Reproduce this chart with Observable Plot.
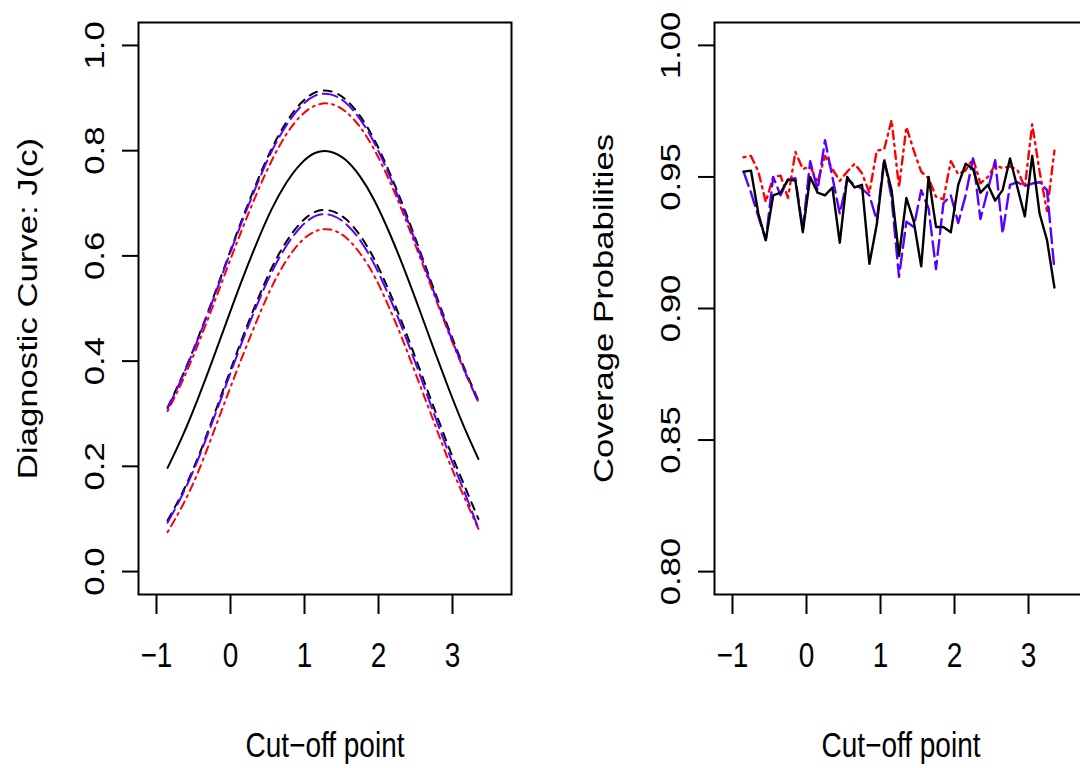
<!DOCTYPE html>
<html><head><meta charset="utf-8">
<script src="https://cdn.jsdelivr.net/npm/d3@7"></script>
<script src="https://cdn.jsdelivr.net/npm/@observablehq/plot@0.6"></script>
<style>
html,body{margin:0;padding:0;background:#fff;}
#wrap{width:1080px;height:768px;overflow:hidden;display:flex;flex-direction:row;background:#fff;}
#wrap > *{flex:none;}
</style></head><body><div id="wrap"></div>
<script>
// ---- Left panel: diagnostic curve J(c) and its confidence bands ----
const leftCutoffs = [-0.85,-0.65,-0.45,-0.25,-0.05,0.15,0.35,0.55,0.75,0.95,1.15,1.35,1.55,1.75,1.95,2.15,2.35,2.55,2.75,2.95,3.15,3.35];
const jTrue      = [0.197,0.257,0.325,0.399,0.476,0.552,0.623,0.687,0.738,0.775,0.796,0.798,0.783,0.751,0.704,0.643,0.574,0.499,0.422,0.347,0.277,0.214];
const blackUpper = [0.312,0.372,0.440,0.514,0.591,0.667,0.738,0.802,0.853,0.890,0.911,0.913,0.898,0.866,0.819,0.758,0.689,0.613,0.536,0.461,0.390,0.325];
const blackLower = [0.097,0.150,0.213,0.287,0.364,0.440,0.511,0.575,0.626,0.663,0.684,0.686,0.671,0.639,0.592,0.531,0.462,0.387,0.311,0.236,0.167,0.100];
const blueUpper  = [0.310,0.370,0.438,0.511,0.588,0.663,0.733,0.797,0.847,0.884,0.905,0.907,0.892,0.860,0.813,0.752,0.683,0.608,0.531,0.456,0.386,0.322];
const blueLower  = [0.093,0.146,0.209,0.282,0.358,0.434,0.504,0.567,0.618,0.655,0.676,0.678,0.662,0.630,0.582,0.521,0.452,0.377,0.300,0.225,0.155,0.082];
const redUpper   = [0.305,0.362,0.428,0.500,0.575,0.648,0.717,0.779,0.830,0.866,0.886,0.889,0.875,0.845,0.800,0.742,0.675,0.601,0.527,0.453,0.385,0.322];
const redLower   = [0.075,0.125,0.185,0.257,0.332,0.405,0.475,0.539,0.590,0.627,0.647,0.650,0.636,0.605,0.560,0.500,0.432,0.358,0.284,0.210,0.144,0.081];

// ---- Right panel: coverage probabilities ----
const rightCutoffs = [-0.85,-0.75,-0.65,-0.55,-0.45,-0.35,-0.25,-0.15,-0.05,0.05,0.15,0.25,0.35,0.45,0.55,0.65,0.75,0.85,0.95,1.05,1.15,1.25,1.35,1.45,1.55,1.65,1.75,1.85,1.95,2.05,2.15,2.25,2.35,2.45,2.55,2.65,2.75,2.85,2.95,3.05,3.15,3.25,3.35];
const coverBlack = [0.952,0.9524,0.936,0.926,0.943,0.944,0.949,0.9486,0.929,0.950,0.944,0.943,0.946,0.925,0.950,0.946,0.947,0.917,0.932,0.956,0.945,0.920,0.942,0.933,0.916,0.950,0.931,0.931,0.929,0.947,0.955,0.953,0.944,0.947,0.941,0.945,0.957,0.946,0.935,0.958,0.936,0.926,0.908];
const coverBlue  = [0.952,0.944,0.935,0.926,0.950,0.943,0.949,0.9495,0.930,0.956,0.945,0.964,0.950,0.936,0.949,0.947,0.9455,0.943,0.9335,0.957,0.942,0.912,0.933,0.931,0.945,0.938,0.915,0.940,0.943,0.9325,0.943,0.957,0.934,0.945,0.9564,0.9285,0.947,0.948,0.9465,0.9475,0.948,0.945,0.9148];
const coverRed   = [0.9575,0.958,0.952,0.9405,0.950,0.9505,0.942,0.9595,0.953,0.954,0.948,0.958,0.953,0.9485,0.952,0.955,0.9514,0.944,0.960,0.9605,0.9716,0.946,0.969,0.960,0.952,0.9495,0.9425,0.9415,0.956,0.951,0.9525,0.957,0.9476,0.950,0.9545,0.9533,0.954,0.9527,0.946,0.970,0.952,0.937,0.960];

// ---- Axes / labels ----
const xTicks = [-1,0,1,2,3];
const xTickLabels = ["\u22121","0","1","2","3"];
const leftYTicks = [0,0.2,0.4,0.6,0.8,1.0];
const leftYTickLabels = ["0.0","0.2","0.4","0.6","0.8","1.0"];
const rightYTicks = [0.80,0.85,0.90,0.95,1.00];
const rightYTickLabels = ["0.80","0.85","0.90","0.95","1.00"];
const xTitle = "Cut\u2212off point";
const leftYTitle = "Diagnostic Curve: J(c)";
const rightYTitle = "Coverage Probabilities";

const FONT = "'Liberation Sans', Arial, Helvetica, sans-serif";
const STRETCH = 1.24; // glyphs in the reference are taller than they are wide
const styles = {
  black: {stroke: "black", strokeDasharray: null},
  blackDash: {stroke: "black", strokeDasharray: "8,7"},
  blueDash: {stroke: "#5a00ff", strokeDasharray: "15,6"},
  redDotDash: {stroke: "#ff0000", strokeDasharray: "2,5,8,5"}
};

function toRows(xs, ys) { return xs.map((x, i) => ({x, y: ys[i]})); }

function stretchTexts(svg) {
  svg.querySelectorAll("text").forEach(t => {
    let tr = t.getAttribute("transform");
    if (!tr) {
      const x = t.getAttribute("x") || 0, y = t.getAttribute("y") || 0;
      t.removeAttribute("x"); t.removeAttribute("y");
      tr = `translate(${x},${y})`;
    }
    const rotated = /rotate\(\s*-?90/.test(tr);
    t.setAttribute("transform", tr + (rotated ? ` scale(${STRETCH},1)` : ` scale(1,${STRETCH})`));
  });
}

function panel({width, marginLeft, marginRight, yDomain, yTicks, yTickLabels, yTitle, series, curve, lineWidth}) {
  const xLab = new Map(xTicks.map((t, i) => [t, xTickLabels[i]]));
  const marks = [];
  for (const s of series) {
    const st = styles[s.style];
    marks.push(Plot.line(toRows(s.x, s.y), {
      x: "x", y: "y", curve, stroke: st.stroke, strokeWidth: lineWidth,
      strokeDasharray: st.strokeDasharray
    }));
  }
  marks.push(
    Plot.frame({stroke: "black", strokeWidth: 2}),
    Plot.axisX(xTicks, {anchor: "bottom", label: null, tickSize: 20, tickPadding: 28, strokeWidth: 2,
      tickFormat: d => xLab.get(d), fontSize: 28}),
    Plot.axisY(yTicks, {anchor: "left", label: null, tickSize: 16, strokeWidth: 2, tickFormat: () => ""}),
    Plot.text(yTicks, {y: d => d, frameAnchor: "left", dx: -43, rotate: -90,
      text: (d, i) => yTickLabels[i], textAnchor: "middle", lineAnchor: "middle", fontSize: 28, fill: "black"}),
    Plot.text([xTitle], {frameAnchor: "bottom", dy: 151, text: d => d, lineAnchor: "middle", fontSize: 28, fill: "black"}),
    Plot.text([yTitle], {frameAnchor: "left", dx: -110, rotate: -90, text: d => d,
      textAnchor: "middle", lineAnchor: "middle", fontSize: 28, fill: "black"})
  );
  const svg = Plot.plot({
    width, height: 768,
    marginLeft, marginRight, marginTop: 22, marginBottom: 174,
    style: {fontFamily: FONT, fontSize: "28px", background: "white", overflow: "visible", color: "black"},
    x: {domain: [-1.243, 3.797], axis: null},
    y: {domain: yDomain, axis: null},
    marks
  });
  stretchTexts(svg);
  return svg;
}

const left = panel({
  width: 540, marginLeft: 138, marginRight: 29,
  yDomain: [-0.0436, 1.0436], yTicks: leftYTicks, yTickLabels: leftYTickLabels, yTitle: leftYTitle,
  curve: "natural", lineWidth: 2,
  series: [
    {x: leftCutoffs, y: jTrue, style: "black"},
    {x: leftCutoffs, y: blackUpper, style: "blackDash"},
    {x: leftCutoffs, y: blackLower, style: "blackDash"},
    {x: leftCutoffs, y: redUpper, style: "redDotDash"},
    {x: leftCutoffs, y: redLower, style: "redDotDash"},
    {x: leftCutoffs, y: blueUpper, style: "blueDash"},
    {x: leftCutoffs, y: blueLower, style: "blueDash"}
  ]
});

const right = panel({
  width: 557, marginLeft: 174, marginRight: 10,
  yDomain: [0.7913, 1.0087], yTicks: rightYTicks, yTickLabels: rightYTickLabels, yTitle: rightYTitle,
  curve: "linear", lineWidth: 2.4,
  series: [
    {x: rightCutoffs, y: coverRed, style: "redDotDash"},
    {x: rightCutoffs, y: coverBlue, style: "blueDash"},
    {x: rightCutoffs, y: coverBlack, style: "black"}
  ]
});

document.getElementById("wrap").append(left, right);
</script>
</body></html>
